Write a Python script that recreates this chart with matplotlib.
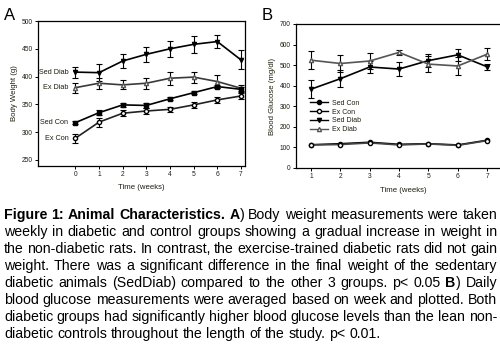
import matplotlib
matplotlib.use("Agg")
import matplotlib.pyplot as plt
from matplotlib.lines import Line2D

plt.rcParams['font.family'] = ['Liberation Sans', 'DejaVu Sans']

# ---------------- data ----------------
weeks_a = [0, 1, 2, 3, 4, 5, 6, 7]
bw_sed_diab = [408, 407, 428, 440, 450, 458, 463, 430]
bw_sed_diab_err = [10, 15, 12, 14, 14, 15, 12, 17]
bw_ex_diab = [380, 388, 385, 388, 397, 399, 391, 379]
bw_ex_diab_err = [9, 10, 8, 10, 12, 10, 12, 5]
bw_sed_con = [317, 335, 349, 348, 360, 371, 382, 377]
bw_sed_con_err = [3, 4, 4, 4, 3, 3, 3, 5]
bw_ex_con = [289, 318, 334, 338, 341, 349, 358, 365]
bw_ex_con_err = [8, 8, 5, 5, 5, 5, 5, 5]

weeks_b = [1, 2, 3, 4, 5, 6, 7]
bg_sed_con = [113, 118, 125, 115, 118, 112, 135]
bg_ex_con = [112, 114, 122, 112, 117, 110, 133]
bg_sed_diab = [383, 434, 491, 481, 522, 550, 492]
bg_sed_diab_err = [44, 40, 30, 34, 30, 30, 15]
bg_ex_diab = [524, 508, 520, 562, 505, 496, 553]
bg_ex_diab_err = [43, 40, 38, 14, 40, 42, 30]

group_labels = ["Sed Con", "Ex Con", "Sed Diab", "Ex Diab"]

caption_lines = [
    [("Figure 1: Animal Characteristics. A", "bold"), (") Body weight measurements were taken", "normal")],
    [("weekly in diabetic and control groups showing a gradual increase in weight in", "normal")],
    [("the non-diabetic rats. In contrast, the exercise-trained diabetic rats did not gain", "normal")],
    [("weight. There was a significant difference in the final weight of the sedentary", "normal")],
    [("diabetic animals (SedDiab) compared to the other 3 groups. p< 0.05 ", "normal"), ("B", "bold"), (") Daily", "normal")],
    [("blood glucose measurements were averaged based on week and plotted. Both", "normal")],
    [("diabetic groups had significantly higher blood glucose levels than the lean non-", "normal")],
    [("diabetic controls throughout the length of the study. p< 0.01.", "normal")],
]

# ---------------- figure ----------------
W, H = 500, 346
fig = plt.figure(figsize=(W / 100, H / 100), dpi=100)
tc = '#1e1e10'
tick_fs = 4.8
lab_fs = 5.6


def px_rect(left, right, top, bottom):
    return [left / W, 1 - bottom / H, (right - left) / W, (bottom - top) / H]


def style_axes(ax):
    for s in ax.spines.values():
        s.set_linewidth(0.9)
    ax.tick_params(direction='out', length=2.2, width=0.7, labelsize=tick_fs,
                   colors='black', labelcolor=tc, pad=1.5)


ebkw = dict(capsize=2.2, elinewidth=0.8, capthick=0.8, lw=1.2, ms=3.0)

# ---- Panel A ----
axA = fig.add_axes(px_rect(38, 245, 21, 166))
style_axes(axA)
axA.errorbar(weeks_a, bw_sed_diab, yerr=bw_sed_diab_err, color='black', marker='v',
             mfc='black', mec='black', **ebkw)
axA.errorbar(weeks_a, bw_ex_diab, yerr=bw_ex_diab_err, color='#3a3a3a', ecolor='black',
             marker='^', mfc='white', mec='#555555', **ebkw)
axA.errorbar(weeks_a, bw_sed_con, yerr=bw_sed_con_err, color='black', marker='s',
             mfc='black', mec='black', **ebkw)
axA.errorbar(weeks_a, bw_ex_con, yerr=bw_ex_con_err, color='#222222', ecolor='black',
             marker='o', mfc='white', mec='black', **ebkw)
axA.set_xlim(-1.58, 7.17)
axA.set_ylim(239, 500)
axA.set_xticks(weeks_a)
axA.set_yticks([250, 300, 350, 400, 450, 500])
axA.set_xlabel("Time (weeks)", fontsize=lab_fs, color=tc, labelpad=4)
axA.set_ylabel("Body Weight (g)", fontsize=lab_fs, color=tc, labelpad=3)
for name, vals in [("Sed Diab", bw_sed_diab), ("Ex Diab", bw_ex_diab),
                   ("Sed Con", bw_sed_con), ("Ex Con", bw_ex_con)]:
    axA.annotate(name, xy=(weeks_a[0], vals[0]), xytext=(-5, 0),
                 textcoords='offset points', ha='right', va='center',
                 fontsize=5.2, color=tc)
fig.text(4 / W, 1 - 20 / H, "A", fontsize=12, color='black', ha='left', va='baseline')

# ---- Panel B ----
axB = fig.add_axes(px_rect(296, 500, 24, 168))
style_axes(axB)
axB.spines['right'].set_visible(False)
ebB = dict(ebkw)
axB.plot(weeks_b, bg_sed_con, color='black', marker='o', mfc='black', mec='black',
         lw=1.2, ms=3.0, label=group_labels[0])
axB.plot(weeks_b, bg_ex_con, color='#444444', marker='o', mfc='white', mec='black',
         lw=1.2, ms=3.0, label=group_labels[1])
axB.errorbar(weeks_b, bg_sed_diab, yerr=bg_sed_diab_err, color='black', marker='v',
             mfc='black', mec='black', label=group_labels[2], **ebB)
axB.errorbar(weeks_b, bg_ex_diab, yerr=bg_ex_diab_err, color='#555555', ecolor='black',
             marker='^', mfc='white', mec='#555555', label=group_labels[3], **ebB)
axB.set_xlim(0.49, 7.44)
axB.set_ylim(0, 700)
axB.set_xticks(weeks_b)
axB.set_yticks([0, 100, 200, 300, 400, 500, 600, 700])
axB.set_ylabel("Blood Glucose (mg/dl)", fontsize=lab_fs, color=tc, labelpad=3)
fig.text(403 / W, 1 - 192 / H, "Time (weeks)", fontsize=lab_fs, color=tc,
         ha='center', va='baseline')
handles = [
    Line2D([], [], color='black', marker='o', mfc='black', mec='black', lw=1.0, ms=3.0),
    Line2D([], [], color='black', marker='o', mfc='white', mec='black', lw=1.0, ms=3.0),
    Line2D([], [], color='black', marker='v', mfc='black', mec='black', lw=1.0, ms=3.0),
    Line2D([], [], color='#555555', marker='^', mfc='white', mec='#555555', lw=1.0, ms=3.0),
]
axB.legend(handles, group_labels, loc='upper left', bbox_to_anchor=(0.07, 0.475),
           frameon=False, fontsize=5.0, handlelength=2.6, handletextpad=0.5,
           labelspacing=0.28, borderpad=0, borderaxespad=0, labelcolor=tc)
fig.text(262 / W, 1 - 20 / H, "B", fontsize=12, color='black', ha='left', va='baseline')

# ---------------- justified caption ----------------
cap_fs = 10.2
x_left, x_right = 4.0, 497.0
base0, dy = 219.0, 17.0
renderer = fig.canvas.get_renderer()


def words_of(runs):
    chars = []
    for txt, wt in runs:
        chars += [(c, wt) for c in txt]
    words, cur = [], []
    for c, wt in chars:
        if c == ' ':
            if cur:
                words.append(cur)
                cur = []
        else:
            cur.append((c, wt))
    if cur:
        words.append(cur)
    out = []
    for w in words:
        runs_w = []
        for c, wt in w:
            if runs_w and runs_w[-1][1] == wt:
                runs_w[-1][0] += c
            else:
                runs_w.append([c, wt])
        out.append(runs_w)
    return out


space_t = fig.text(0, 0, "a a", fontsize=cap_fs)
aa_t = fig.text(0, 0, "aa", fontsize=cap_fs)
space_w = space_t.get_window_extent(renderer).width - aa_t.get_window_extent(renderer).width
space_t.remove()
aa_t.remove()

for li, runs in enumerate(caption_lines):
    yb = 1 - (base0 + li * dy) / H
    words = words_of(runs)
    objs = []
    widths = []
    for w in words:
        wo = []
        ww = 0
        for txt, wt in w:
            t = fig.text(0, yb, txt, fontsize=cap_fs, fontweight=wt, color='black',
                         ha='left', va='baseline')
            tw = t.get_window_extent(renderer).width
            wo.append((t, tw))
            ww += tw
        objs.append(wo)
        widths.append(ww)
    last = li == len(caption_lines) - 1
    if last or len(words) < 2:
        gap = space_w
    else:
        gap = (x_right - x_left - sum(widths)) / (len(words) - 1)
    x = x_left
    for wo, ww in zip(objs, widths):
        xx = x
        for t, tw in wo:
            t.set_x(xx / W)
            xx += tw
        x += ww + gap

fig.savefig("out.png", dpi=100)
